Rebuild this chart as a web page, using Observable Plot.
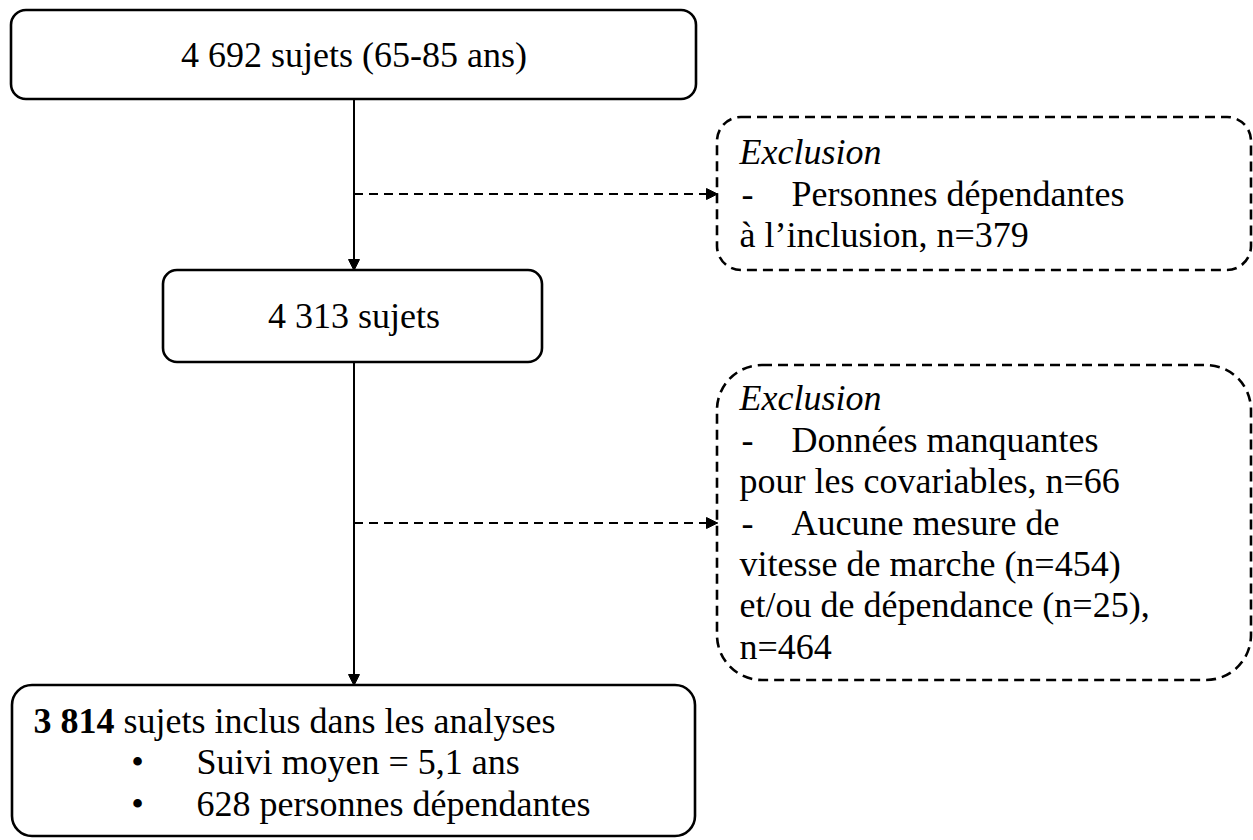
<!DOCTYPE html>
<html><head><meta charset="utf-8">
<script src="https://cdn.jsdelivr.net/npm/d3@7"></script>
<script src="https://cdn.jsdelivr.net/npm/@observablehq/plot@0.6"></script>
<style>html,body{margin:0;padding:0;background:#fff}</style>
</head><body><div id="chart"></div>
<script>
// ---------- content ----------
const startText = "4 692 sujets (65-85 ans)";
const midText = "4 313 sujets";
const exclusion1 = [
  {kind: "head", text: "Exclusion"},
  {kind: "item", text: "Personnes dépendantes"},
  {kind: "cont", text: "à l’inclusion, n=379"}
];
const exclusion2 = [
  {kind: "head", text: "Exclusion"},
  {kind: "item", text: "Données manquantes"},
  {kind: "cont", text: "pour les covariables, n=66"},
  {kind: "item", text: "Aucune mesure de"},
  {kind: "cont", text: "vitesse de marche (n=454)"},
  {kind: "cont", text: "et/ou de dépendance (n=25),"},
  {kind: "cont", text: "n=464"}
];
const finalBold = "3 814";
const finalRest = " sujets inclus dans les analyses";
const finalBullets = ["Suivi moyen = 5,1 ans", "628 personnes dépendantes"];

// ---------- layout ----------
const W = 1253, H = 840;
const FONT = "Liberation Serif, 'Times New Roman', serif";
const FS = 36, LH = 41.4;
const solid = [
  {id: "start", x1: 11, x2: 696, y1: 10, y2: 99, r: 15},
  {id: "mid", x1: 163, x2: 542, y1: 270, y2: 362, r: 14},
  {id: "end", x1: 12, x2: 695, y1: 685, y2: 836, r: 20}
];
const dashed = [
  {id: "ex1", x1: 717, x2: 1251, y1: 117, y2: 270, r: 24},
  {id: "ex2", x1: 717, x2: 1251, y1: 365, y2: 680, r: 45}
];
const spineX = (solid[0].x1 + solid[0].x2) / 2;
const HL = 11, HW = 5.5; // arrow head length / half width

// connectors
const vLinks = [
  {x1: spineX, y1: solid[0].y2, x2: spineX, y2: solid[1].y1},
  {x1: spineX, y1: solid[1].y2, x2: spineX, y2: solid[2].y1}
];
const hLinks = dashed.map(b => ({x1: spineX, y1: (b.y1 + b.y2) / 2, x2: b.x1, y2: (b.y1 + b.y2) / 2}));

function head(l, i, dir) {
  const tx = l.x2, ty = l.y2;
  if (dir === "down") return [
    {x: tx, y: ty, k: dir + i}, {x: tx - HW, y: ty - HL, k: dir + i}, {x: tx + HW, y: ty - HL, k: dir + i}, {x: tx, y: ty, k: dir + i}];
  return [
    {x: tx, y: ty, k: dir + i}, {x: tx - HL, y: ty - HW, k: dir + i}, {x: tx - HL, y: ty + HW, k: dir + i}, {x: tx, y: ty, k: dir + i}];
}
const heads = [...vLinks.map((l, i) => head(l, i, "down")), ...hLinks.map((l, i) => head(l, i, "right"))].flat();
const vShort = vLinks.map(l => ({...l, y2: l.y2 - HL + 1}));
const hShort = hLinks.map(l => ({...l, x2: l.x2 - HL + 1}));

// text rows
function rows(lines, box) {
  const cy = (box.y1 + box.y2) / 2, n = lines.length;
  return lines.map((d, i) => ({...d, y: cy + (i - (n - 1) / 2) * LH}));
}
const ex1Rows = rows(exclusion1, dashed[0]);
const ex2Rows = rows(exclusion2, dashed[1]);
const exRows = [...ex1Rows, ...ex2Rows];
const textLeft = dashed[0].x1 + 22;
const itemLeft = dashed[0].x1 + 74;

const endBox = solid[2];
const endTop = endBox.y1 + 36;
const endRows = [finalBold, ...finalBullets].map((t, i) => ({text: t, y: endTop + i * LH}));

const ctx = document.createElement("canvas").getContext("2d");
ctx.font = `bold ${FS}px "Liberation Serif"`;
const boldW = ctx.measureText(finalBold).width;
const endLeft = endBox.x1 + 21;

const common = {fontFamily: FONT, fontSize: FS, fill: "black", lineAnchor: "middle"};

const marks = [
  ...solid.map(b => Plot.rect([b], {x1: "x1", x2: "x2", y1: "y1", y2: "y2", rx: b.r, fill: "white", stroke: "black", strokeWidth: 2.6})),
  ...dashed.map(b => Plot.rect([b], {x1: "x1", x2: "x2", y1: "y1", y2: "y2", rx: b.r, fill: "white", stroke: "black", strokeWidth: 2.6, strokeDasharray: "10,6"})),
  Plot.link(vShort, {x1: "x1", y1: "y1", x2: "x2", y2: "y2", stroke: "black", strokeWidth: 2}),
  Plot.link(hShort, {x1: "x1", y1: "y1", x2: "x2", y2: "y2", stroke: "black", strokeWidth: 2, strokeDasharray: "9,6"}),
  Plot.line(heads, {x: "x", y: "y", z: "k", fill: "black", stroke: "black", strokeWidth: 1}),
  Plot.text([startText], {x: spineX, y: (solid[0].y1 + solid[0].y2) / 2, text: d => d, textAnchor: "middle", ...common}),
  Plot.text([midText], {x: spineX, y: (solid[1].y1 + solid[1].y2) / 2, text: d => d, textAnchor: "middle", ...common}),
  Plot.text(exRows.filter(d => d.kind === "head"), {x: textLeft, y: "y", text: "text", textAnchor: "start", fontStyle: "italic", ...common}),
  Plot.text(exRows.filter(d => d.kind === "cont"), {x: textLeft, y: "y", text: "text", textAnchor: "start", ...common}),
  Plot.text(exRows.filter(d => d.kind === "item"), {x: textLeft + 2, y: "y", text: () => "-", textAnchor: "start", ...common}),
  Plot.text(exRows.filter(d => d.kind === "item"), {x: itemLeft, y: "y", text: "text", textAnchor: "start", ...common}),
  Plot.text(endRows.slice(0, 1), {x: endLeft, y: "y", text: "text", textAnchor: "start", fontWeight: "bold", ...common}),
  Plot.text([{text: finalRest, y: endRows[0].y}], {x: endLeft + boldW, y: "y", text: "text", textAnchor: "start", ...common}),
  Plot.text(endRows.slice(1), {x: endBox.x1 + 125, y: "y", text: () => "•", textAnchor: "middle", ...common}),
  Plot.text(endRows.slice(1), {x: endBox.x1 + 184, y: "y", text: "text", textAnchor: "start", ...common})
];

const chart = Plot.plot({
  width: W, height: H, margin: 0,
  x: {domain: [0, W], range: [0, W], axis: null},
  y: {domain: [0, H], range: [0, H], axis: null},
  style: {fontFamily: FONT, background: "white", overflow: "visible"},
  marks
});
document.getElementById("chart").appendChild(chart);
</script>
</body></html>
